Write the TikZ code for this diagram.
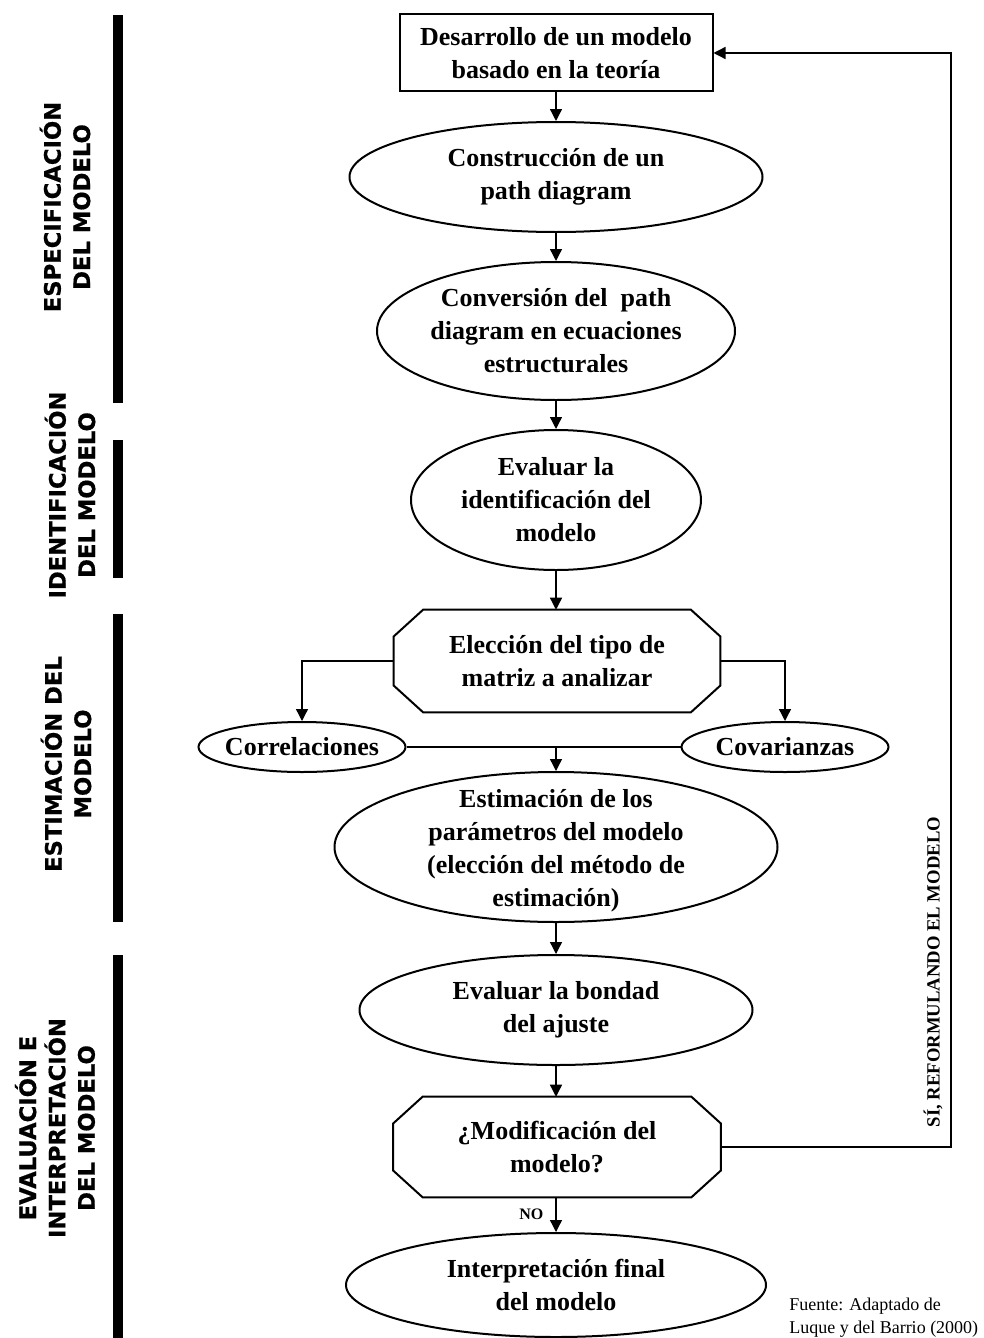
\documentclass[tikz,border=0pt]{standalone}
\usepackage{fontspec}
\setmainfont{Liberation Serif}
\newfontfamily\verd{DejaVu Sans}[BoldFont={DejaVu Sans Bold},BoldFeatures={FakeBold=0.6}]
\usetikzlibrary{shapes.geometric,arrows.meta}
\begin{document}
\begin{tikzpicture}[x=0.75pt,y=-0.75pt,
  shp/.style={draw,line width=1.5pt,inner sep=0pt},
  ell/.style={shp,ellipse},
  octbox/.style={rectangle,inner sep=0pt},
  octline/.style={line width=1.5pt,line join=miter},
  txt/.style={align=center,font=\fontsize{19.5}{24.75}\selectfont\bfseries,inner sep=0pt},
  conn/.style={line width=1pt,-{Triangle[length=9pt,width=9pt]}},
  plain/.style={line width=1pt},
  side/.style={rotate=90,align=center,inner sep=0pt,font=\verd\bfseries\fontsize{17}{22}\selectfont},
]
\useasboundingbox (0,0) rectangle (984,1338);

% side bars
\fill (113,15) rectangle (123,403);
\fill (113,440) rectangle (123,578);
\fill (113,614) rectangle (123,922);
\fill (113,955) rectangle (123,1338);

% side labels
\node[side] (l1) at (65,207) {ESPECIFICACIÓN\\DEL MODELO};
\node[side] (l2) at (70,495) {IDENTIFICACIÓN\\DEL MODELO};
\node[side] (l3) at (66,764) {ESTIMACIÓN DEL\\MODELO};
\node[side] (l4) at (55,1128) {EVALUACIÓN E\\INTERPRETACIÓN\\DEL MODELO};

% main column
\node[shp,rectangle,minimum width=234.75pt,minimum height=57.75pt,label={[txt]center:{Desarrollo de un modelo\\basado en la teoría}}] (box) at (556,53) {};
\node[ell,minimum width=309.75pt,minimum height=82.5pt,label={[txt]center:{Construcción de un\\path diagram}}] (e1) at (556,177) {};
\node[ell,minimum width=268.5pt,minimum height=103.5pt,label={[txt]center:{Conversión del\ \ path\\diagram en ecuaciones\\estructurales}}] (e2) at (556,331) {};
\node[ell,minimum width=217.5pt,minimum height=105pt,label={[txt]center:{Evaluar la\\identificación del\\modelo}}] (e3) at (556,500) {};
\node[octbox,minimum width=244.5pt,minimum height=76.5pt,label={[txt]center:{Elección del tipo de\\matriz a analizar}}] (o1) at (557,661) {};
\node[ell,minimum width=155.25pt,minimum height=37.5pt,label={[txt]center:{Correlaciones}}] (corr) at (302,747) {};
\node[ell,minimum width=155.25pt,minimum height=37.5pt,label={[txt]center:{Covarianzas}}] (cov) at (785,747) {};
\node[ell,minimum width=332.25pt,minimum height=112.5pt,label={[txt,yshift=-3pt]center:{Estimación de los\\parámetros del modelo\\(elección del método de\\estimación)}}] (e6) at (556,847) {};
\node[ell,minimum width=294.75pt,minimum height=82.5pt,label={[txt]center:{Evaluar la bondad\\del ajuste}}] (e7) at (556,1010) {};
\node[octbox,minimum width=245.25pt,minimum height=75pt,label={[txt]center:{¿Modificación del\\modelo?}}] (o2) at (557,1147) {};
\node[ell,minimum width=315pt,minimum height=78pt,label={[txt]center:{Interpretación final\\del modelo}}] (e9) at (556,1285) {};

% octagon outlines
\foreach \o in {o1,o2}{
  \draw[octline] ([xshift=22pt]\o.north west) -- ([xshift=-22pt]\o.north east)
    -- ([yshift=-20pt]\o.north east) -- ([yshift=20pt]\o.south east)
    -- ([xshift=-22pt]\o.south east) -- ([xshift=22pt]\o.south west)
    -- ([yshift=20pt]\o.south west) -- ([yshift=-20pt]\o.north west) -- cycle;
}

% connectors
\draw[conn] (box) -- (e1);
\draw[conn] (e1) -- (e2);
\draw[conn] (e2) -- (e3);
\draw[conn] (e3) -- (e3 |- o1.north);
\draw[conn] (o1.west) -| (corr);
\draw[conn] (o1.east) -| (cov);
\draw[plain] (corr) -- (cov);
\coordinate (mid) at (corr -| e6);
\draw[conn] (mid) -- (e6);
\draw[conn] (e6) -- (e7);
\draw[conn] (e7) -- (e7 |- o2.north);
\draw[conn] (e9 |- o2.south) -- node[left=9pt,inner sep=0pt,font=\fontsize{12}{14}\selectfont\bfseries] (no) {NO} (e9);
\coordinate (fbx) at (951,0);
\draw[conn] (o2.east) -| (fbx |- box.east) -- (box.east);
\node[rotate=90,inner sep=0pt,font=\fontsize{14}{16}\selectfont\bfseries] (si) at (933,972) {SÍ, REFORMULANDO EL MODELO};

% source
\node[anchor=north west,align=left,inner sep=0pt,font=\fontsize{13.5}{17}\selectfont] (src) at (789,1298) {Fuente: Adaptado de\\Luque y del Barrio (2000)};
\end{tikzpicture}
\end{document}
